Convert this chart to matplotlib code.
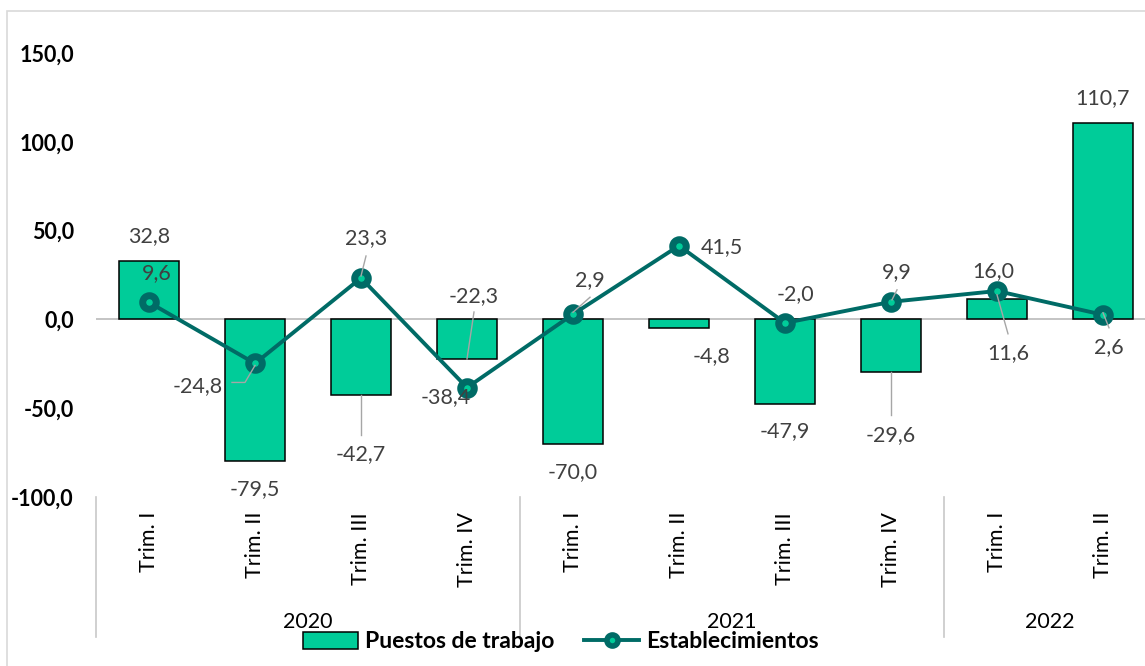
import numpy as np
import matplotlib
matplotlib.use('Agg')
import matplotlib.pyplot as plt
import matplotlib.transforms as mtransforms
from matplotlib.lines import Line2D
from matplotlib.patches import Patch, Rectangle

# -------------------- data --------------------
quarters = ['Trim. I', 'Trim. II', 'Trim. III', 'Trim. IV',
            'Trim. I', 'Trim. II', 'Trim. III', 'Trim. IV',
            'Trim. I', 'Trim. II']
years = ['2020', '2021', '2022']
quarters_per_year = [4, 4, 2]
puestos = [32.8, -79.5, -42.7, -22.3, -70.0, -4.8, -47.9, -29.6, 11.6, 110.7]
establecimientos = [9.6, -24.8, 23.3, -38.4, 2.9, 41.5, -2.0, 9.9, 16.0, 2.6]
yticks = [-100, -50, 0, 50, 100, 150]

# -------------------- label placement (pixel offsets, y up) --------------------
bar_label_off = [(0, 25), (0, -29), (0, -59), (7, 63), (0, -28),
                 (33, -28), (0, -27), (0, -63), (11, -54), (0, 25)]
line_label_off = [(8, 29), (-57, -23), (5, 40), (-21, -9), (17, 34),
                  (43, -1), (10, 29), (6, 30), (-4, 20), (6, -32)]
bar_leaders = {2: [(0, 0), (0, -40)], 3: [(0, 0), (7, 47)],
               7: [(0, 0), (0, -43)], 8: [(0, 4), (11, -35)]}
line_leaders = {1: [(0, -2), (-10, -19), (-23, -19)], 2: [(0, 2), (5, 22)],
                4: [(0, 2), (17, 17)], 7: [(1, 2), (6, 12)], 9: [(0, 2), (6, -13)]}

BAR_C = '#00CC99'
LINE_C = '#006B66'
LABEL_C = '#404040'
LEAD_C = '#A6A6A6'
FS = 15.5

plt.rcParams['font.family'] = ['Lato', 'DejaVu Sans']

W, H = 1145, 666
fig = plt.figure(figsize=(W / 100, H / 100), dpi=100)
# plot area: x from 96px to 1156px, y=-100 at 497px, y=150 at 53px
ax = fig.add_axes([96 / W, 1 - 497 / H, 1060 / W, 444 / H])

x = np.arange(len(quarters))
ax.bar(x, puestos, width=0.566, color=BAR_C, edgecolor='black', linewidth=1.1, zorder=3)
ax.axhline(0, color='#BFBFBF', lw=1.3, zorder=2)
ax.plot(x, establecimientos, color=LINE_C, lw=2.8, marker='o', ms=9.8,
        mfc=BAR_C, mec=LINE_C, mew=5, zorder=5)

ax.set_xlim(-0.5, len(quarters) - 0.5)
ax.set_ylim(-100, 150)
ax.set_xticks([])
ax.set_yticks(yticks)
ax.set_yticklabels([f"{v:.1f}".replace('.', ',') for v in yticks],
                   fontsize=FS, fontweight='bold', color='black')
ax.tick_params(axis='y', length=0, pad=16)
for s in ax.spines.values():
    s.set_visible(False)


def fmt(v):
    return f"{v:.1f}".replace('.', ',')


# data labels
for i, v in enumerate(puestos):
    ax.annotate(fmt(v), (x[i], v), xytext=bar_label_off[i], textcoords='offset pixels',
                ha='center', va='center', fontsize=FS, color=LABEL_C, zorder=6)
for i, v in enumerate(establecimientos):
    ax.annotate(fmt(v), (x[i], v), xytext=line_label_off[i], textcoords='offset pixels',
                ha='center', va='center', fontsize=FS, color=LABEL_C, zorder=6)

# leader lines
for series, leaders in ((puestos, bar_leaders), (establecimientos, line_leaders)):
    for i, pts in leaders.items():
        ax0 = ax.transData.transform((x[i], series[i]))
        pts = np.array(pts, dtype=float) + ax0
        fig.add_artist(Line2D(pts[:, 0], pts[:, 1], color=LEAD_C, lw=1.0,
                              transform=mtransforms.IdentityTransform(), zorder=4))

# category axis: quarters and years
tb = mtransforms.blended_transform_factory(ax.transData, fig.transFigure)
for i, q in enumerate(quarters):
    ax.text(x[i], 1 - 512 / H, q, rotation=90, ha='center', va='top',
            fontsize=FS, color='black', transform=tb)
edges = np.concatenate([[0], np.cumsum(quarters_per_year)]) - 0.5
for e in edges[:-1]:
    ax.plot([e, e], [1 - 497 / H, 1 - 637 / H], color='#C8C8C8', lw=1.2,
            transform=tb, clip_on=False)
for k, yr in enumerate(years):
    ax.text((edges[k] + edges[k + 1]) / 2, 1 - 622 / H, yr, ha='center', va='center',
            fontsize=FS, color='black', transform=tb)

# legend
handles = [Patch(facecolor=BAR_C, edgecolor='black', linewidth=1.1),
           Line2D([], [], color=LINE_C, lw=2.8, marker='o', ms=8, mfc=BAR_C,
                  mec=LINE_C, mew=4)]
fig.legend(handles, ['Puestos de trabajo', 'Establecimientos'], loc='center',
           bbox_to_anchor=(561 / W, 1 - 642 / H), ncol=2, frameon=False,
           prop={'weight': 'bold', 'size': 16.5}, handlelength=2.4, handleheight=0.75,
           handletextpad=0.3, columnspacing=1.3)

# chart border
fig.add_artist(Rectangle((7 / W, -0.5), 2, 0.5 + 1 - 11 / H, fill=False,
                         edgecolor='#D9D9D9', lw=1.2, transform=fig.transFigure))

fig.savefig('out.png', dpi=100)
